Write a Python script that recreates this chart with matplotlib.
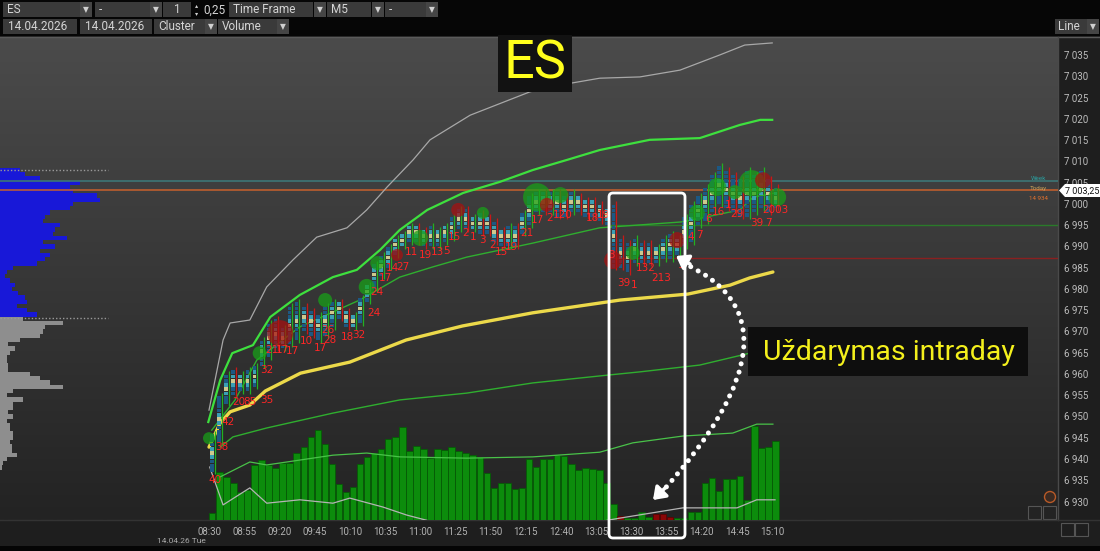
import numpy as np
import matplotlib.pyplot as plt
from matplotlib.patches import Rectangle, FancyBboxPatch, PathPatch, Polygon, Circle
from matplotlib.path import Path
from matplotlib.colors import LinearSegmentedColormap

plt.rcParams['font.family'] = ['Roboto', 'DejaVu Sans']

# ---- data (ES, M5 cluster chart, 14.04.2026) ----
time_labels = ["08:30", "08:55", "09:20", "09:45", "10:10", "10:35", "11:00",
               "11:25", "11:50", "12:15", "12:40", "13:05", "13:30", "13:55",
               "14:20", "14:45", "15:10"]
label_step = 5

bar_low = [6937, 6944, 6953, 6955, 6956, 6956, 6957, 6962, 6964, 6966,
           6966, 6967, 6968, 6970, 6969, 6968, 6969, 6971, 6973, 6971,
           6971, 6972, 6977, 6980, 6983, 6985, 6988, 6990, 6991, 6991,
           6990, 6990, 6990, 6991, 6992, 6994, 6994, 6994, 6993, 6993,
           6991, 6990, 6990, 6990, 6993, 6995, 6998, 6998, 6998, 6997,
           6997, 6998, 6998, 6997, 6997, 6996, 6995, 6985, 6985, 6984,
           6986, 6986, 6986, 6986, 6987, 6987, 6988, 6990, 6991, 6995,
           6996, 6998, 7000, 6999, 6998, 6997, 6997, 6998, 6999, 6998, 6999]
bar_high = [6946, 6955, 6960, 6961, 6960, 6961, 6962, 6968, 6972, 6973,
            6971, 6976, 6977, 6976, 6975, 6974, 6976, 6977, 6977, 6975,
            6974, 6978, 6981, 6986, 6988, 6990, 6992, 6993, 6995, 6995,
            6994, 6995, 6994, 6995, 6997, 6999, 6999, 6997, 6998, 6997,
            6996, 6994, 6995, 6995, 6998, 7002, 7003, 7003, 7003, 7003,
            7002, 7003, 7002, 7001, 7001, 7000, 6999, 7000, 6992, 6991,
            6992, 6991, 6991, 6990, 6992, 6993, 6992, 6997, 7000, 7002,
            7004, 7007, 7009, 7008, 7007, 7006, 7008, 7007, 7008, 7006, 7004]
bar_dir = ("UUUDUUUUUD" "UUUDDUUUDD" "UUUUUUUUUD" "DUUUUUDUDD"
           "DDUDUUUDUD" "DUDDDDDDDD" "UDDUUUUUUU" "UUUDDDUUUDD")

volume = [7, 48, 43, 37, 28, 30, 55, 60, 55, 52, 57, 57, 67, 73, 83, 90, 76,
          56, 36, 28, 33, 56, 63, 67, 71, 81, 83, 93, 69, 74, 71, 62, 71, 70,
          73, 69, 67, 65, 63, 47, 32, 37, 37, 31, 32, 61, 53, 61, 61, 65, 64,
          56, 50, 52, 51, 50, 37, 16, 4, 2, 2, 8, 3, 6, 6, 3, 2, 2, 8, 8, 37,
          42, 29, 41, 41, 44, 20, 94, 72, 73, 79]
volume_sell_bars = [58, 63, 64, 65]

vwap_x = [0, 1.6, 3, 5.8, 8, 13, 20, 28, 36, 46, 58.4, 68, 74, 76.8, 80.1]
vwap = [6942.8, 6948.5, 6951.1, 6952.7, 6956.0, 6960.2, 6962.8, 6968.0,
        6971.3, 6974.4, 6977.4, 6978.8, 6980.9, 6982.6, 6984.0]

up3_x = [0, 2, 3, 5.8, 8.2, 11.9, 15.3, 19.6, 22.4, 25.3, 29, 31.4, 37.1,
         45.6, 49.9, 55.5, 61.2, 66.9, 72.6, 76.1, 80]
up3 = [6951.5, 6968.0, 6972.0, 6972.7, 6980.5, 6986.8, 6992.2, 6994.4,
       6998.6, 7004.0, 7010.4, 7015.1, 7020.9, 7026.4, 7028.0, 7029.6,
       7029.9, 7031.5, 7035.1, 7037.4, 7037.9]
up2_x = [-0.1, 1.6, 3.3, 6.25, 8.7, 12.9, 17.6, 21, 24.3, 27.1, 31, 36.1,
         41.3, 46, 50.9, 55.5, 62.6, 69.7, 75.4, 78.3, 80]
up2 = [6948.7, 6958.6, 6964.9, 6966.8, 6973.4, 6978.6, 6982.8, 6984.5,
       6989.2, 6993.9, 6998.6, 7002.6, 7005.2, 7008.0, 7010.4, 7012.7,
       7015.1, 7015.5, 7018.6, 7019.8, 7019.8]
up1_x = [0.4, 3.7, 6.8, 12.9, 21.4, 27.1, 31.8, 36.6, 46, 55.5, 67.3, 75.4,
         77.3, 80.4]
up1 = [6946.8, 6953.9, 6963.3, 6971.1, 6977.4, 6982.8, 6985.2, 6987.5,
       6990.8, 6994.4, 6995.8, 6998.6, 7001.6, 7002.6]
dn1_x = [1.6, 3.4, 8.2, 17.6, 27.1, 36.6, 46, 57, 61.2, 69.7, 76.8, 80]
dn1 = [6942.8, 6945.2, 6947.3, 6950.8, 6953.9, 6955.5, 6957.9, 6959.8,
       6960.5, 6962.1, 6964.9, 6966.8]
dn2_x = [1.6, 5.8, 8.2, 17.6, 22.4, 27.1, 36.6, 46, 55.5, 60.2, 67.3, 74.4,
         77.8, 80.1]
dn2 = [6935.8, 6939.3, 6938.6, 6940.9, 6941.4, 6940.5, 6940.2, 6940.5,
       6941.6, 6943.8, 6945.4, 6946.1, 6948.2, 6948.2]
dn3_x = [0.1, 2, 5.8, 8.2, 12.9, 17.6, 20, 24.7, 28.1, 31.8, 44.2, 58.4,
         67.3, 75, 77.8, 80.4]
dn3 = [6938.1, 6929.2, 6933.2, 6929.6, 6930.4, 6929.6, 6930.8, 6928.7,
       6926.8, 6925.2, 6922.0, 6926.1, 6928.5, 6928.5, 6930.4, 6930.4]

last_price = 7003.25
week_level = 7005.4
level_green = 6995.0
level_red = 6987.4
levels_from_bar = 57

# big-volume bubbles: bar position, price, diameter (px), buy/sell
bubble_x = [0, 7.2, 10.1, 16.5, 22.4, 23.9, 26.7, 30, 35.4, 38.9, 46.6, 48,
            49.9, 57.4, 60.2, 66.5, 69.3, 72.2, 74.7, 77.1, 78.7, 80.7]
bubble_p = [6944.9, 6964.9, 6969.6, 6977.4, 6980.5, 6986.1, 6988.0, 6992.0,
            6998.6, 6997.9, 7001.6, 6999.8, 7002.1, 6986.8, 6988.5, 6991.5,
            6997.9, 7004.0, 7002.8, 7004.9, 7005.6, 7001.6]
bubble_d = [12, 14, 26, 14, 16, 14, 12, 16, 14, 12, 28, 14, 16, 18, 14, 16,
            16, 18, 14, 26, 16, 18]
bubble_side = "bbsbbbsbsbbsbsbsbbbbsb"

# red cluster numbers
num_x = [0.9, 1.8, 2.7, 4.2, 5.8, 8.2, 8.2, 9.0, 10.4, 11.8, 13.8, 15.8,
         17.2, 16.9, 19.7, 21.3, 23.4, 23.9, 25.0, 26.1, 27.6, 28.8, 30.7,
         32.4, 33.8, 34.9, 36.4, 37.5, 38.8, 40.3, 41.6, 43.0, 45.2, 46.7,
         48.4, 50.3, 54.4, 56.0, 57.2, 58.9, 60.4, 62.0, 64.2, 67.0, 68.5,
         69.7, 70.9, 72.3, 73.7, 75.0, 77.8, 79.4, 80.4]
num_p = [6935.1, 6942.8, 6948.7, 6953.4, 6953.4, 6953.9, 6960.9, 6965.6,
         6965.6, 6965.4, 6967.8, 6966.1, 6968.0, 6970.4, 6968.7, 6969.2,
         6974.4, 6979.3, 6982.6, 6984.9, 6985.2, 6988.7, 6988.0, 6988.7,
         6988.9, 6992.2, 6993.2, 6992.2, 6991.5, 6990.4, 6988.7, 6989.9,
         6993.2, 6996.2, 6996.7, 6997.4, 6996.7, 6997.4, 6988.0, 6981.4,
         6980.9, 6984.9, 6982.6, 6985.6, 6992.2, 6992.7, 6996.5, 6998.1,
         6999.8, 6997.6, 6995.5, 6995.5, 6998.6]
num_txt = ["40", "38", "42", "20", "85", "35", "32", "21", "17", "17", "10",
           "17", "28", "26", "18", "32", "24", "24", "17", "14", "27", "11",
           "19", "13", "5", "15", "2", "1", "3", "2", "15", "19", "21", "17",
           "2", "120", "18", "19", "3", "39", "1", "132", "213", "1", "4",
           "7", "6", "16", "1", "29", "39", "7", "2003"]

# session volume profile (left), one row per point, 7008 down to 6938
profile_top = 7008
profile = [20, 25, 40, 80, 70, 73, 97, 100, 73, 70,
           50, 45, 43, 60, 55, 53, 67, 43, 55, 40,
           50, 45, 37, 13, 7, 5, 10, 15, 12, 18,
           25, 27, 17, 27, 37, 23, 63, 45, 43, 40,
           20, 8, 15, 10, 7, 7, 8, 8, 30, 40,
           50, 63, 13, 7, 23, 13, 13, 8, 13, 7,
           10, 10, 13, 13, 10, 12, 12, 17, 7, 3, 2]
value_area = (7008.0, 6973.2)
profile_split = 6974

price_ticks = list(range(6930, 7036, 5))

# ---- layout (pixel geometry of the screenshot) ----
W, H = 1100, 551
PL, PR, PT, PB = 0, 1058, 37, 520          # price pane
BAR_PX, X0_PX = 7.04, 209                  # px per bar, px of bar 0
PX_PER_PT, Y7000_PX = 4.25, 204            # px per point, px of 7000

fig = plt.figure(figsize=(W / 100, H / 100), dpi=100)
fig.patch.set_facecolor('#1d1d1d')

ui = fig.add_axes([0, 0, 1, 1])
ui.set_zorder(0)
ui.axis('off')

# pane gradient
grad = np.linspace(0, 1, 256).reshape(-1, 1)
cmap = LinearSegmentedColormap.from_list('pane', ['#4b4b4b', '#232323'])
ui.imshow(grad, extent=[PL, PR, PB, PT], cmap=cmap, aspect='auto',
          interpolation='bilinear')
ui.set_xlim(0, W)
ui.set_ylim(H, 0)

# toolbar
ui.add_patch(Rectangle((0, 0), W, PT - 1, color='#060606', lw=0))
ui.add_patch(Rectangle((0, PB), W, H - PB, color='#1e1e1e', lw=0))
ui.add_patch(Rectangle((0, H - 5), W, 5, color='#050505', lw=0))
ui.add_patch(Rectangle((PR, PT), W - PR, PB - PT, color='#1e1e1e', lw=0))
ui.plot([0, W], [PT - 0.5, PT - 0.5], color='#5a5a5a', lw=1)
ui.plot([PR, PR], [PT, PB], color='#4a4a4a', lw=1)
ui.plot([0, W], [PB, PB], color='#333333', lw=1)


def tbox(x, y, w, txt, tx=None, color='#3a3a3a', fs=8.5, ha='left'):
    ui.add_patch(Rectangle((x, y), w, 15, color=color, lw=0))
    if txt:
        ui.text(x + 4 if tx is None else tx, y + 7.8, txt, color='#d4d4d4',
                fontsize=fs, ha=ha, va='center')


def drop(x, y):
    ui.add_patch(Rectangle((x, y), 12, 15, color='#454545', lw=0))
    ui.text(x + 6, y + 7.5, '▼', color='#d0d0d0', fontsize=5.5,
            ha='center', va='center', family='DejaVu Sans')


tbox(3, 2, 77, 'ES')
drop(80, 2)
tbox(95, 2, 55, '-')
drop(150, 2)
tbox(163, 2, 28, '1', tx=177, ha='center')
ui.text(197, 5.5, '▴', color='#d0d0d0', fontsize=4.5, ha='center',
        va='center', family='DejaVu Sans')
ui.text(197, 13.5, '▾', color='#d0d0d0', fontsize=4.5, ha='center',
        va='center', family='DejaVu Sans')
ui.text(203, 9.8, '0,25', color='#d4d4d4', fontsize=8.5, va='center')
tbox(229, 2, 84, 'Time Frame')
drop(314, 2)
tbox(327, 2, 44, 'M5')
drop(372, 2)
tbox(385, 2, 42, '-')
drop(426, 2)
tbox(3, 19, 74, '14.04.2026', tx=8)
tbox(80, 19, 72, '14.04.2026', tx=85)
tbox(154, 19, 51, 'Cluster')
drop(205, 19)
tbox(218, 19, 59, 'Volume')
drop(277, 19)
tbox(1055, 19, 32, 'Line', tx=1058)
drop(1087, 19)

# small widgets bottom right
for bx, by in [(1028, 506), (1043, 506), (1061, 523), (1075, 523)]:
    ui.add_patch(Rectangle((bx, by), 13, 13, fill=False, ec='#555555', lw=0.8))
ui.add_patch(Circle((1050, 497), 5.5, fc='#3a2a22', ec='#b85a28', lw=1))

ui.text(157, 541, '14.04.26 Tue', color='#a8a8a8', fontsize=6, va='center')

# ---- data axes ----
rect = [PL / W, 1 - PB / H, (PR - PL) / W, (PB - PT) / H]
xlim = ((PL - X0_PX) / BAR_PX, (PR - X0_PX) / BAR_PX)
ylim = (7000 - (PB - Y7000_PX) / PX_PER_PT, 7000 + (Y7000_PX - PT) / PX_PER_PT)
n_bars = len(bar_low)
bars = np.arange(n_bars)

# volume histogram
axv = fig.add_axes(rect)
axv.set_zorder(1)
axv.patch.set_alpha(0)
axv.axis('off')
axv.set_xlim(*xlim)
axv.set_ylim(0, PB - PT)
vol_colors = ['#8a0606' if i in volume_sell_bars else '#0c8c0c' for i in bars]
vol_edges = ['#5a0303' if i in volume_sell_bars else '#065a06' for i in bars]
axv.bar(bars, volume, width=0.92, align='edge', color=vol_colors,
        edgecolor=vol_edges, linewidth=0.6)

# volume profile
axp = fig.add_axes(rect)
axp.set_zorder(1.5)
axp.patch.set_alpha(0)
axp.axis('off')
axp.set_xlim(0, PR - PL)
axp.set_ylim(*ylim)
prof_levels = profile_top - np.arange(len(profile))
prof_colors = ['#1818d8' if lv >= profile_split else '#8e8e8e'
               for lv in prof_levels]
axp.barh(prof_levels, profile, height=0.95, left=0, color=prof_colors, lw=0)
axp.hlines(value_area, 0, 108, colors='#9a9a9a', linestyles=(0, (1, 1.5)),
           lw=1)

# price pane
ax = fig.add_axes(rect)
ax.set_zorder(2)
ax.patch.set_alpha(0)
ax.set_xlim(*xlim)
ax.set_ylim(*ylim)
for s in ax.spines.values():
    s.set_visible(False)

ax.axhline(week_level, color='#3d7676', lw=1.2, zorder=1)
ax.axhline(last_price, color='#c8612c', lw=1.1, zorder=1)
ax.hlines(level_green, levels_from_bar, xlim[1], colors='#2a7a2a', lw=1,
          zorder=1)
ax.hlines(level_red, levels_from_bar, xlim[1], colors='#8a2020', lw=1,
          zorder=1)

ax.plot(up3_x, up3, color='#a8a8a8', lw=0.9, zorder=2)
ax.plot(up2_x, up2, color='#3ee03e', lw=1.6, zorder=2)
ax.plot(up1_x, up1, color='#2fae2f', lw=1.0, zorder=2)
ax.plot(dn1_x, dn1, color='#2fae2f', lw=1.0, zorder=2)
ax.plot(dn2_x, dn2, color='#49c249', lw=0.9, zorder=2)
ax.plot(dn3_x, dn3, color='#b4b4b4', lw=0.9, zorder=2)
ax.plot(vwap_x, vwap, color='#ecd94a', lw=2.4, zorder=3,
        solid_capstyle='round')

# cluster cells
cell_x, cell_b, cell_c = [], [], []
for i in bars:
    lo, hi = bar_low[i], bar_high[i]
    n = hi - lo
    mid = n // 2
    for k in range(n):
        cell_x.append(i + 0.45)
        cell_b.append(lo + k)
        if k == mid:
            cell_c.append('#cfc98e')
        elif abs(k - mid) == 1:
            cell_c.append('#3a9fb5')
        else:
            cell_c.append('#1c5884')
ax.bar(cell_x, 0.85, bottom=cell_b, width=0.52, color=cell_c, lw=0, zorder=4)
wick_c = ['#22b022' if d == 'U' else '#c81818' for d in bar_dir]
ax.vlines(bars + 0.85, np.array(bar_low) - 0.6, np.array(bar_high) + 0.6,
          colors=wick_c, lw=0.9, zorder=4)

bub_c = ['#17a317' if s == 'b' else '#a81010' for s in bubble_side]
ax.scatter(bubble_x, bubble_p, s=(np.array(bubble_d) / 1.389) ** 2, c=bub_c,
           alpha=0.72, lw=0, zorder=5)

for x, p, t in zip(num_x, num_p, num_txt):
    ax.text(x, p, t, color='#ff2626', fontsize=7.5, ha='center', va='center',
            zorder=6, family='DejaVu Sans')

ax.text(117.8, week_level + 0.7, 'Week', color='#2a9e9e', fontsize=4.5,
        ha='center', va='center')
ax.text(117.8, last_price + 0.5, 'Today', color='#c9a25a', fontsize=4.5,
        ha='center', va='center')
ax.text(117.8, last_price - 1.9, '14 934', color='#e0702e', fontsize=4.5,
        ha='center', va='center')

ax.yaxis.tick_right()
ax.set_yticks(price_ticks)
ax.set_yticklabels([f"{v // 1000} {v % 1000:03d}" for v in price_ticks])
ax.tick_params(axis='y', length=0, pad=4, labelsize=7, labelcolor='#bcbcbc')
tick_pos = np.arange(0, n_bars, label_step)
ax.set_xticks(tick_pos)
ax.set_xticklabels(time_labels)
ax.tick_params(axis='x', length=0, pad=5, labelsize=7, labelcolor='#b2b2b2')

# ---- overlay: titles, box, arrow, price marker ----
top = fig.add_axes([0, 0, 1, 1])
top.set_zorder(5)
top.patch.set_alpha(0)
top.axis('off')
top.set_xlim(0, W)
top.set_ylim(H, 0)

top.add_patch(Rectangle((498, 35), 74, 57, color='#121212', lw=0))
top.text(535, 64, 'ES', color='#ffff1c', fontsize=39, ha='center',
         va='center')

top.add_patch(Rectangle((748, 327), 280, 49, color='#0e0e0e', lw=0))
top.text(889, 352, 'Uždarymas intraday', color='#f4f01c', fontsize=20.5,
         ha='center', va='center')

top.add_patch(FancyBboxPatch((609, 193), 76, 345,
                             boxstyle='round,pad=0,rounding_size=4',
                             fill=False, ec='white', lw=2))

curve = Path([(683, 263), (815, 322), (661, 493)],
             [Path.MOVETO, Path.CURVE3, Path.CURVE3])
top.add_patch(PathPatch(curve, fill=False, ec='white', lw=3.6,
                        ls=(0, (0.01, 1.7)), capstyle='round'))
for tip, tail in [((676, 256), (690, 264)), ((653, 500), (666, 487))]:
    top.annotate('', xy=tip, xytext=tail,
                 arrowprops=dict(arrowstyle='-|>,head_length=0.7,head_width=0.5',
                                 color='white', lw=2.5, shrinkA=0, shrinkB=0))

top.add_patch(Polygon([(1059, 190.5), (1065, 184), (1100, 184), (1100, 197),
                       (1065, 197)], closed=True, color='white', lw=0))
top.text(1065, 190.8, '7 003,25', color='#111111', fontsize=6.5, va='center')

fig.savefig('out.png', dpi=100, facecolor=fig.get_facecolor())
